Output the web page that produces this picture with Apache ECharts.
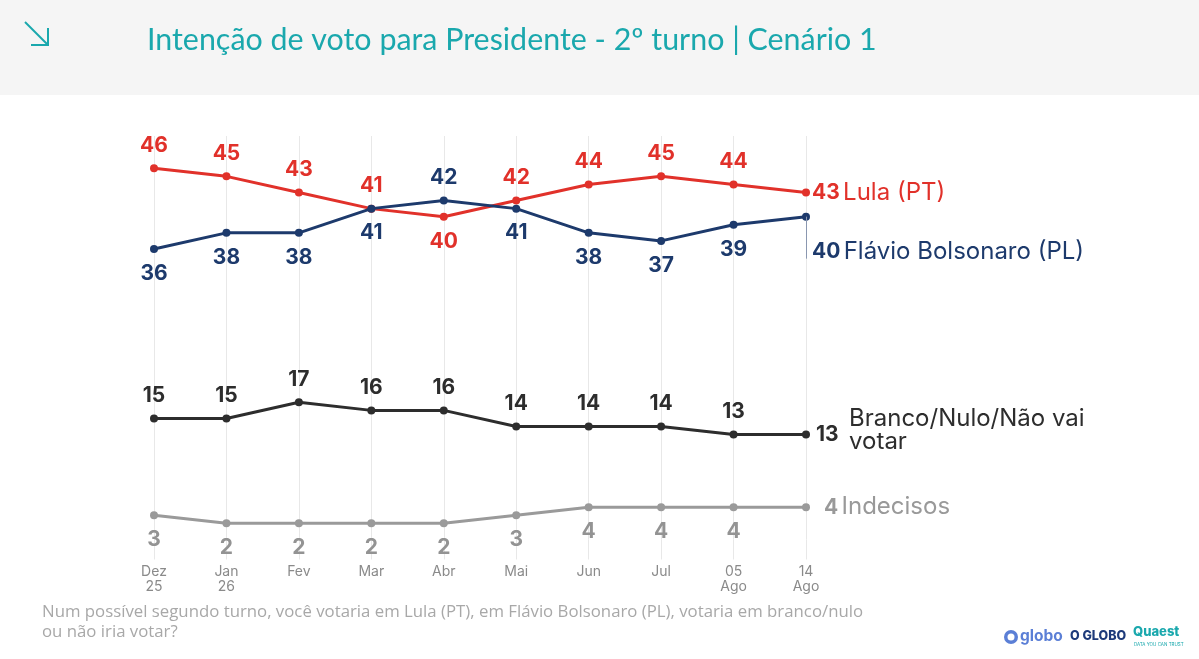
<!DOCTYPE html>
<html>
  <head>
    <meta charset="UTF-8" />
    <title>Intenção de voto - 2º turno</title>
    <script src="https://cdn.jsdelivr.net/npm/echarts@6.0.0/dist/echarts.min.js"></script>
    <style>
      html, body { margin: 0; padding: 0; background: #ffffff; }
    </style>
  </head>
  <body>
    <div id="voteChart" style="width: 1199px; height: 659px"></div>
  </body>
  <script>
    const categories = ['Dez\n25', 'Jan\n26', 'Fev', 'Mar', 'Abr', 'Mai', 'Jun', 'Jul', '05\nAgo', '14\nAgo'];
    const lula = [46, 45, 43, 41, 40, 42, 44, 45, 44, 43];
    const bolsonaro = [36, 38, 38, 41, 42, 41, 38, 37, 39, 40];
    const branco = [15, 15, 17, 16, 16, 14, 14, 14, 13, 13];
    const indecisos = [3, 2, 2, 2, 2, 3, 4, 4, 4, 4];

    const RED = '#e1312a', NAVY = '#1d3a6c', DARK = '#2d2d2d', GREY = '#9a9a9a';
    const FONT = 'Inter, "Noto Sans", sans-serif';
    const last = categories.length - 1;

    // label above or below each point; "flip" lists the exceptions
    function points(values, pos, flip, lastAsLabel) {
      return values.map((v, i) => {
        let p = flip.includes(i) ? (pos === 'top' ? 'bottom' : 'top') : pos;
        let item = { value: v, label: { position: p, distance: p === 'top' ? 8 : 10 } };
        if (i === last) {
          item.label = lastAsLabel ? { position: 'right', distance: 6 } : { show: false };
        }
        return item;
      });
    }

    function numLabel(color) {
      return { show: true, color: color, fontSize: 21, fontWeight: 700, fontFamily: FONT };
    }

    function nameRich(color) {
      return {
        n: { fontSize: 21, fontWeight: 700, color: color, fontFamily: FONT },
        t: { fontSize: 24, fontWeight: 400, color: color, fontFamily: FONT }
      };
    }

    let myChart = echarts.init(document.getElementById('voteChart'));

    myChart.setOption({
      animation: false,
      backgroundColor: '#ffffff',
      grid: { left: 154, right: 393, top: 136, bottom: 119.5 },
      xAxis: {
        type: 'category',
        data: categories,
        boundaryGap: false,
        axisLine: { show: false },
        axisTick: { show: true, length: 20, lineStyle: { color: '#e8e8e8' } },
        splitLine: { show: true, lineStyle: { color: '#e8e8e8', width: 1 } },
        axisLabel: { color: '#8a8a8a', fontSize: 14, lineHeight: 15, margin: 25, fontFamily: FONT }
      },
      yAxis: { type: 'value', min: 0, max: 50, show: false },
      graphic: [
        { type: 'rect', z: -10, shape: { x: 0, y: 0, width: 1199, height: 95 }, style: { fill: '#f5f5f5' } },
        { type: 'polyline', shape: { points: [[25, 22], [48, 45]] }, style: { stroke: '#1aa8ad', lineWidth: 2, fill: null } },
        { type: 'polyline', shape: { points: [[48, 28], [48, 45], [31, 45]] }, style: { stroke: '#1aa8ad', lineWidth: 2, fill: null } },
        {
          type: 'text', left: 147, top: 25,
          style: { text: 'Intenção de voto para Presidente - 2º turno | Cenário 1', fill: '#1aa8ad', fontSize: 30.4, fontFamily: 'Lato, sans-serif' }
        },
        {
          type: 'text', left: 42, top: 602,
          style: {
            text: 'Num possível segundo turno, você votaria em Lula (PT), em Flávio Bolsonaro (PL), votaria em branco/nulo\nou não iria votar?',
            fill: '#a8a8a8', fontSize: 16.8, lineHeight: 20, fontFamily: '"Open Sans", sans-serif'
          }
        },
        // logos
        { type: 'circle', shape: { cx: 1011, cy: 637, r: 7 }, style: { fill: '#5b7fd6' } },
        { type: 'circle', shape: { cx: 1011, cy: 637, r: 3.5 }, style: { fill: '#ffffff' } },
        { type: 'text', left: 1020, top: 628, style: { text: 'globo', fill: '#5b7fd6', fontSize: 15.5, fontWeight: 700, fontFamily: FONT } },
        { type: 'text', left: 1070, top: 630, style: { text: 'O GLOBO', fill: '#1d3a7a', fontSize: 12.5, fontWeight: 800, fontFamily: FONT } },
        { type: 'text', left: 1133, top: 626, style: { text: 'Quaest', fill: '#1aa8ad', fontSize: 13, fontWeight: 800, fontFamily: FONT } },
        { type: 'text', left: 1134, top: 642, style: { text: 'DATA YOU CAN TRUST', fill: '#1aa8ad', fontSize: 4.5, fontFamily: FONT } }
      ],
      series: [
        {
          name: 'Lula (PT)',
          type: 'line',
          data: points(lula, 'top', [4], false),
          color: RED,
          lineStyle: { width: 3 },
          symbol: 'circle',
          symbolSize: 8,
          label: numLabel(RED),
          endLabel: {
            show: true, distance: 6,
            formatter: '{n|' + lula[last] + '} {t|Lula (PT)}',
            rich: nameRich(RED)
          },
          z: 3
        },
        {
          name: 'Flávio Bolsonaro (PL)',
          type: 'line',
          data: points(bolsonaro, 'bottom', [4], false),
          color: NAVY,
          lineStyle: { width: 3 },
          symbol: 'circle',
          symbolSize: 8,
          label: numLabel(NAVY),
          endLabel: {
            show: true, distance: 6, offset: [0, 35],
            formatter: '{n|' + bolsonaro[last] + '} {t|Flávio Bolsonaro (PL)}',
            rich: nameRich(NAVY)
          },
          markLine: {
            silent: true,
            symbol: ['none', 'none'],
            label: { show: false },
            lineStyle: { color: '#8a97b0', width: 1, type: 'solid' },
            data: [[{ coord: [last, bolsonaro[last]] }, { coord: [last, bolsonaro[last] - 5.2] }]]
          },
          z: 4
        },
        {
          name: 'Branco/Nulo/Não vai votar',
          type: 'line',
          data: points(branco, 'top', [], true),
          color: DARK,
          lineStyle: { width: 3 },
          symbol: 'circle',
          symbolSize: 8,
          label: numLabel(DARK),
          endLabel: {
            show: true, distance: 6, offset: [37, -4],
            formatter: '{t|Branco/Nulo/Não vai}\n{t|votar}',
            rich: { t: { fontSize: 24, lineHeight: 23, color: DARK, fontFamily: FONT } }
          }
        },
        {
          name: 'Indecisos',
          type: 'line',
          data: points(indecisos, 'bottom', [], false),
          color: GREY,
          lineStyle: { width: 3 },
          symbol: 'circle',
          symbolSize: 8,
          label: numLabel('#939393'),
          endLabel: {
            show: true, distance: 18,
            formatter: '{n|' + indecisos[last] + '} {t|Indecisos}',
            rich: nameRich('#999999')
          }
        }
      ]
    });
  </script>
</html>
